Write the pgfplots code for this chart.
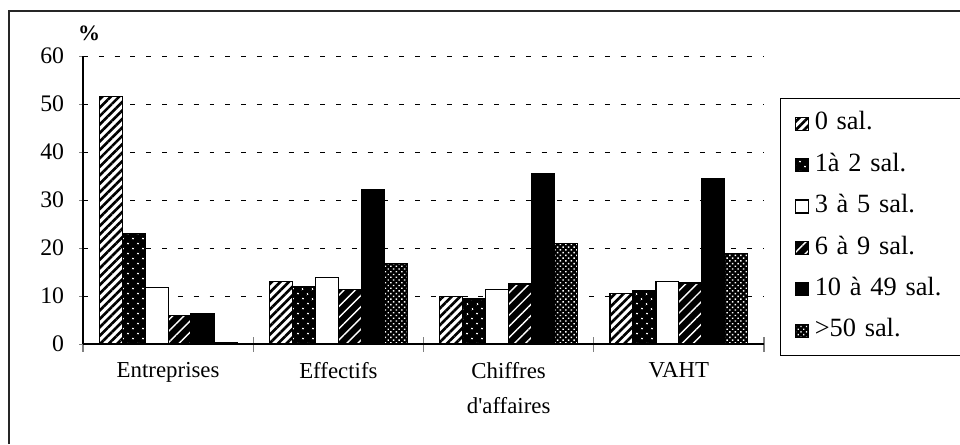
\documentclass[border=0pt]{standalone}
\usepackage{fontspec}
\setmainfont{Liberation Serif}
\usepackage{pgfplots}
\pgfplotsset{compat=1.18}
\usetikzlibrary{patterns.meta}

\pgfplotstableread{
x  s0    s1    s2    s3    s4    s5
0  51.6  23.1  11.8  5.9   6.4   0.3
1  13.0  12.0  13.9  11.4  32.1  16.8
2  9.9   9.4   11.3  12.5  35.5  21.0
3  10.6  11.1  13.0  12.7  34.4  18.9
}\datatable

\begin{document}
\begin{tikzpicture}
\begin{scope}[x=0.02cm,y=-0.02cm]
\draw[line width=0.7pt, black!85] (9,444) -- (9,11) -- (960,11);
\node[font=\fontsize{12.5}{14}\selectfont\bfseries, anchor=center] at (89,33) {\%};
\end{scope}
\begin{axis}[
  at={(1.66cm,-6.88cm)}, anchor=south west,
  width=13.62cm, height=5.76cm, scale only axis,
  xmin=-0.5, xmax=3.5, ymin=0, ymax=60,
  ybar=0pt, bar width=0.135,
  axis x line*=bottom, axis y line*=left,
  axis line style={-, line width=0.6pt},
  ytick={0,10,...,60},
  ytick align=outside, major tick length=0.08cm,
  xtick={0,1,2,3},
  xticklabels={Entreprises, Effectifs, {Chiffres\\[4pt]d\textquotesingle affaires}, VAHT},
  major x tick style={draw=none},
  minor xtick={-0.5,0.5,1.5,2.5,3.5},
  xtick align=center, minor tick length=0.3cm,
  minor x tick style={line width=0.6pt},
  xticklabel style={align=center, font=\fontsize{13}{15.5}\selectfont, yshift=-6pt},
  yticklabel style={font=\fontsize{13.5}{16}\selectfont, xshift=-5pt},
  /pgf/number format/assume math mode=true,
  ymajorgrids,
  grid style={dash pattern=on 2.8pt off 6.2pt, black, line width=0.5pt},
  legend image code/.code={\draw[#1] (0cm,-0.13cm) rectangle (0.26cm,0.13cm);},
  legend style={at={(1.0235,0.854)}, anchor=north west, draw=black, line width=0.6pt,
    font=\fontsize{15}{18}\selectfont, legend cell align=left,
    nodes={inner sep=0pt, text height=10pt, text depth=3pt, text width=3.6cm, align=left},
    /tikz/every odd column/.append style={column sep=0.12cm},
    inner xsep=0.28cm, inner ysep=0.275cm, row sep=0.371cm},
  every axis plot/.append style={draw=black, line width=0.7pt},
]
\addplot[fill=white, postaction={pattern={Lines[angle=45, distance=3.4pt, line width=1.5pt]}, pattern color=black}] table[x=x, y=s0] {\datatable};
\addplot[fill=black, postaction={pattern={Dots[distance=4pt, radius=0.6pt, angle=45]}, pattern color=white}] table[x=x, y=s1] {\datatable};
\addplot[fill=white] table[x=x, y=s2] {\datatable};
\addplot[fill=black, postaction={pattern={Lines[angle=45, distance=4.5pt, line width=0.8pt]}, pattern color=white}] table[x=x, y=s3] {\datatable};
\addplot[fill=black] table[x=x, y=s4] {\datatable};
\addplot[fill=black, postaction={pattern={Dots[distance=2.2pt, radius=0.55pt, angle=45]}, pattern color=white}] table[x=x, y=s5] {\datatable};
\legend{0 sal., 1à 2 sal., 3 à 5 sal., 6 à 9 sal., 10 à 49 sal., >50 sal.}
\end{axis}
\pgfresetboundingbox
\path[use as bounding box] (0,0) rectangle (19.2cm,-8.88cm);
\end{tikzpicture}
\end{document}
